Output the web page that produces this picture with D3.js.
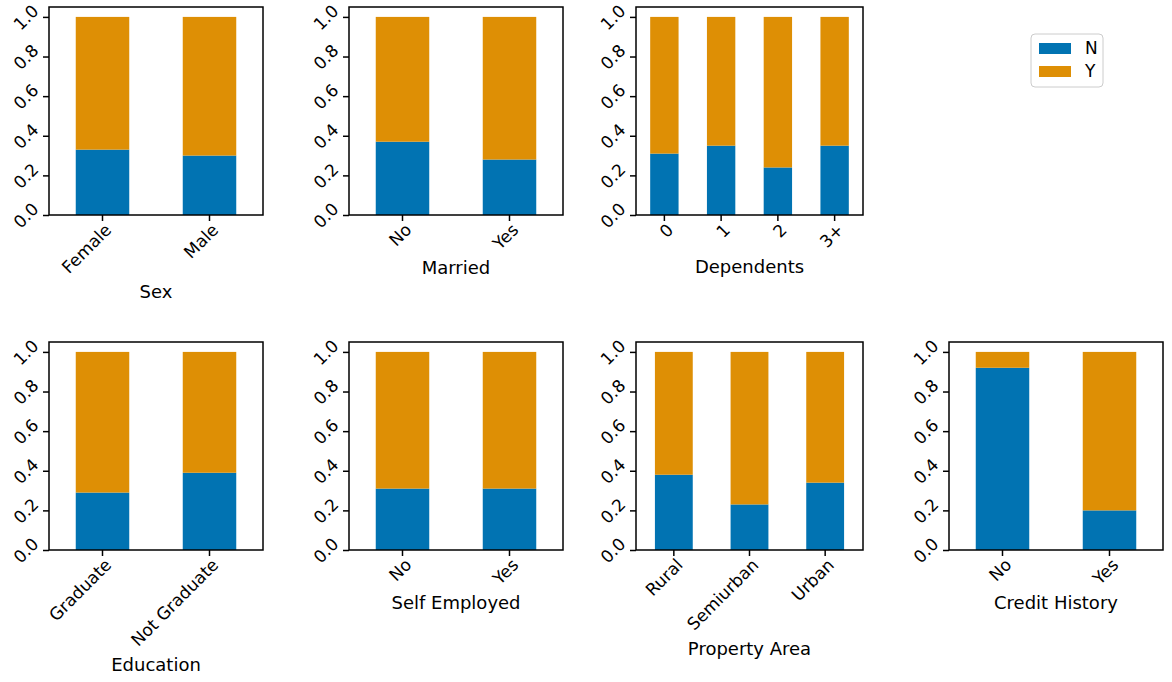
<!DOCTYPE html>
<html><head><meta charset="utf-8">
<script src="https://cdn.jsdelivr.net/npm/d3@7"></script>
<style>body{margin:0;background:#fff;font-family:"DejaVu Sans",sans-serif}</style>
</head><body><svg id="c" width="1172" height="682"></svg>
<script>
const sexCats = ['Female', 'Male'], sexN = [0.33, 0.30];
const marriedCats = ['No', 'Yes'], marriedN = [0.37, 0.28];
const depCats = ['0', '1', '2', '3+'], depN = [0.31, 0.35, 0.24, 0.35];
const eduCats = ['Graduate', 'Not Graduate'], eduN = [0.29, 0.39];
const selfCats = ['No', 'Yes'], selfN = [0.31, 0.31];
const propCats = ['Rural', 'Semiurban', 'Urban'], propN = [0.38, 0.23, 0.34];
const credCats = ['No', 'Yes'], credN = [0.92, 0.20];
const yTicks = [0, 0.2, 0.4, 0.6, 0.8, 1.0];
const colN = '#0173b2', colY = '#de8f05';

const panels = [
  {title: 'Sex', cats: sexCats, n: sexN, x: 49, w: 214, y: 7},
  {title: 'Married', cats: marriedCats, n: marriedN, x: 349, w: 214, y: 7},
  {title: 'Dependents', cats: depCats, n: depN, x: 636, w: 227, y: 7},
  {title: 'Education', cats: eduCats, n: eduN, x: 49, w: 214, y: 342},
  {title: 'Self Employed', cats: selfCats, n: selfN, x: 349, w: 214, y: 342},
  {title: 'Property Area', cats: propCats, n: propN, x: 636, w: 227, y: 342},
  {title: 'Credit History', cats: credCats, n: credN, x: 949, w: 214, y: 342}
];
const H = 208;
const svg = d3.select('#c');

panels.forEach(p => {
  const g = svg.append('g').attr('transform', `translate(${p.x},${p.y})`);
  const x = d3.scaleBand().domain(p.cats).range([0, p.w]).paddingInner(0.5).paddingOuter(0.25);
  const y = d3.scaleLinear().domain([0, 1.05]).range([H, 0]);
  g.selectAll('.n').data(p.cats).enter().append('rect')
    .attr('x', d => x(d)).attr('width', x.bandwidth())
    .attr('y', (d, i) => y(p.n[i])).attr('height', (d, i) => H - y(p.n[i]))
    .attr('fill', colN);
  g.selectAll('.yv').data(p.cats).enter().append('rect')
    .attr('x', d => x(d)).attr('width', x.bandwidth())
    .attr('y', y(1)).attr('height', (d, i) => y(p.n[i]) - y(1))
    .attr('fill', colY);
  g.append('rect').attr('width', p.w).attr('height', H)
    .attr('fill', 'none').attr('stroke', '#000').attr('stroke-width', 1.5);
  const ya = g.append('g').call(d3.axisLeft(y).tickValues(yTicks).tickFormat(d3.format('.1f')).tickSize(6).tickPadding(4));
  ya.select('.domain').remove();
  ya.selectAll('line').attr('stroke-width', 1.5);
  ya.selectAll('text').attr('font-size', 17).attr('font-family', 'DejaVu Sans')
    .attr('text-anchor', 'middle').attr('x', -23).attr('dy', '0.35em')
    .attr('transform', 'rotate(-45,-23,0)');
  const xa = g.append('g').attr('transform', `translate(0,${H})`)
    .call(d3.axisBottom(x).tickSize(6).tickPadding(4));
  xa.select('.domain').remove();
  xa.selectAll('line').attr('stroke-width', 1.5);
  xa.selectAll('text').attr('font-size', 17).attr('font-family', 'DejaVu Sans')
    .attr('text-anchor', 'end').attr('y', 10).attr('dy', '0.5em').attr('x', 4)
    .attr('transform', 'rotate(-45,4,10)');
  let maxW = 0;
  xa.selectAll('text').each(function() { maxW = Math.max(maxW, this.getComputedTextLength()); });
  g.append('text').attr('x', p.w / 2).attr('y', H + 18 + maxW * 0.707 + 22)
    .attr('text-anchor', 'middle').attr('font-size', 18).text(p.title);
});

const lg = svg.append('g').attr('transform', 'translate(1031,34)');
lg.append('rect').attr('width', 72).attr('height', 53).attr('rx', 4)
  .attr('fill', '#fff').attr('stroke', '#ccc');
[['N', colN], ['Y', colY]].forEach((d, i) => {
  lg.append('rect').attr('x', 8).attr('y', 9 + i * 23).attr('width', 32).attr('height', 11).attr('fill', d[1]);
  lg.append('text').attr('x', 54).attr('y', 20 + i * 23).attr('font-size', 17).text(d[0]);
});
</script></body></html>
